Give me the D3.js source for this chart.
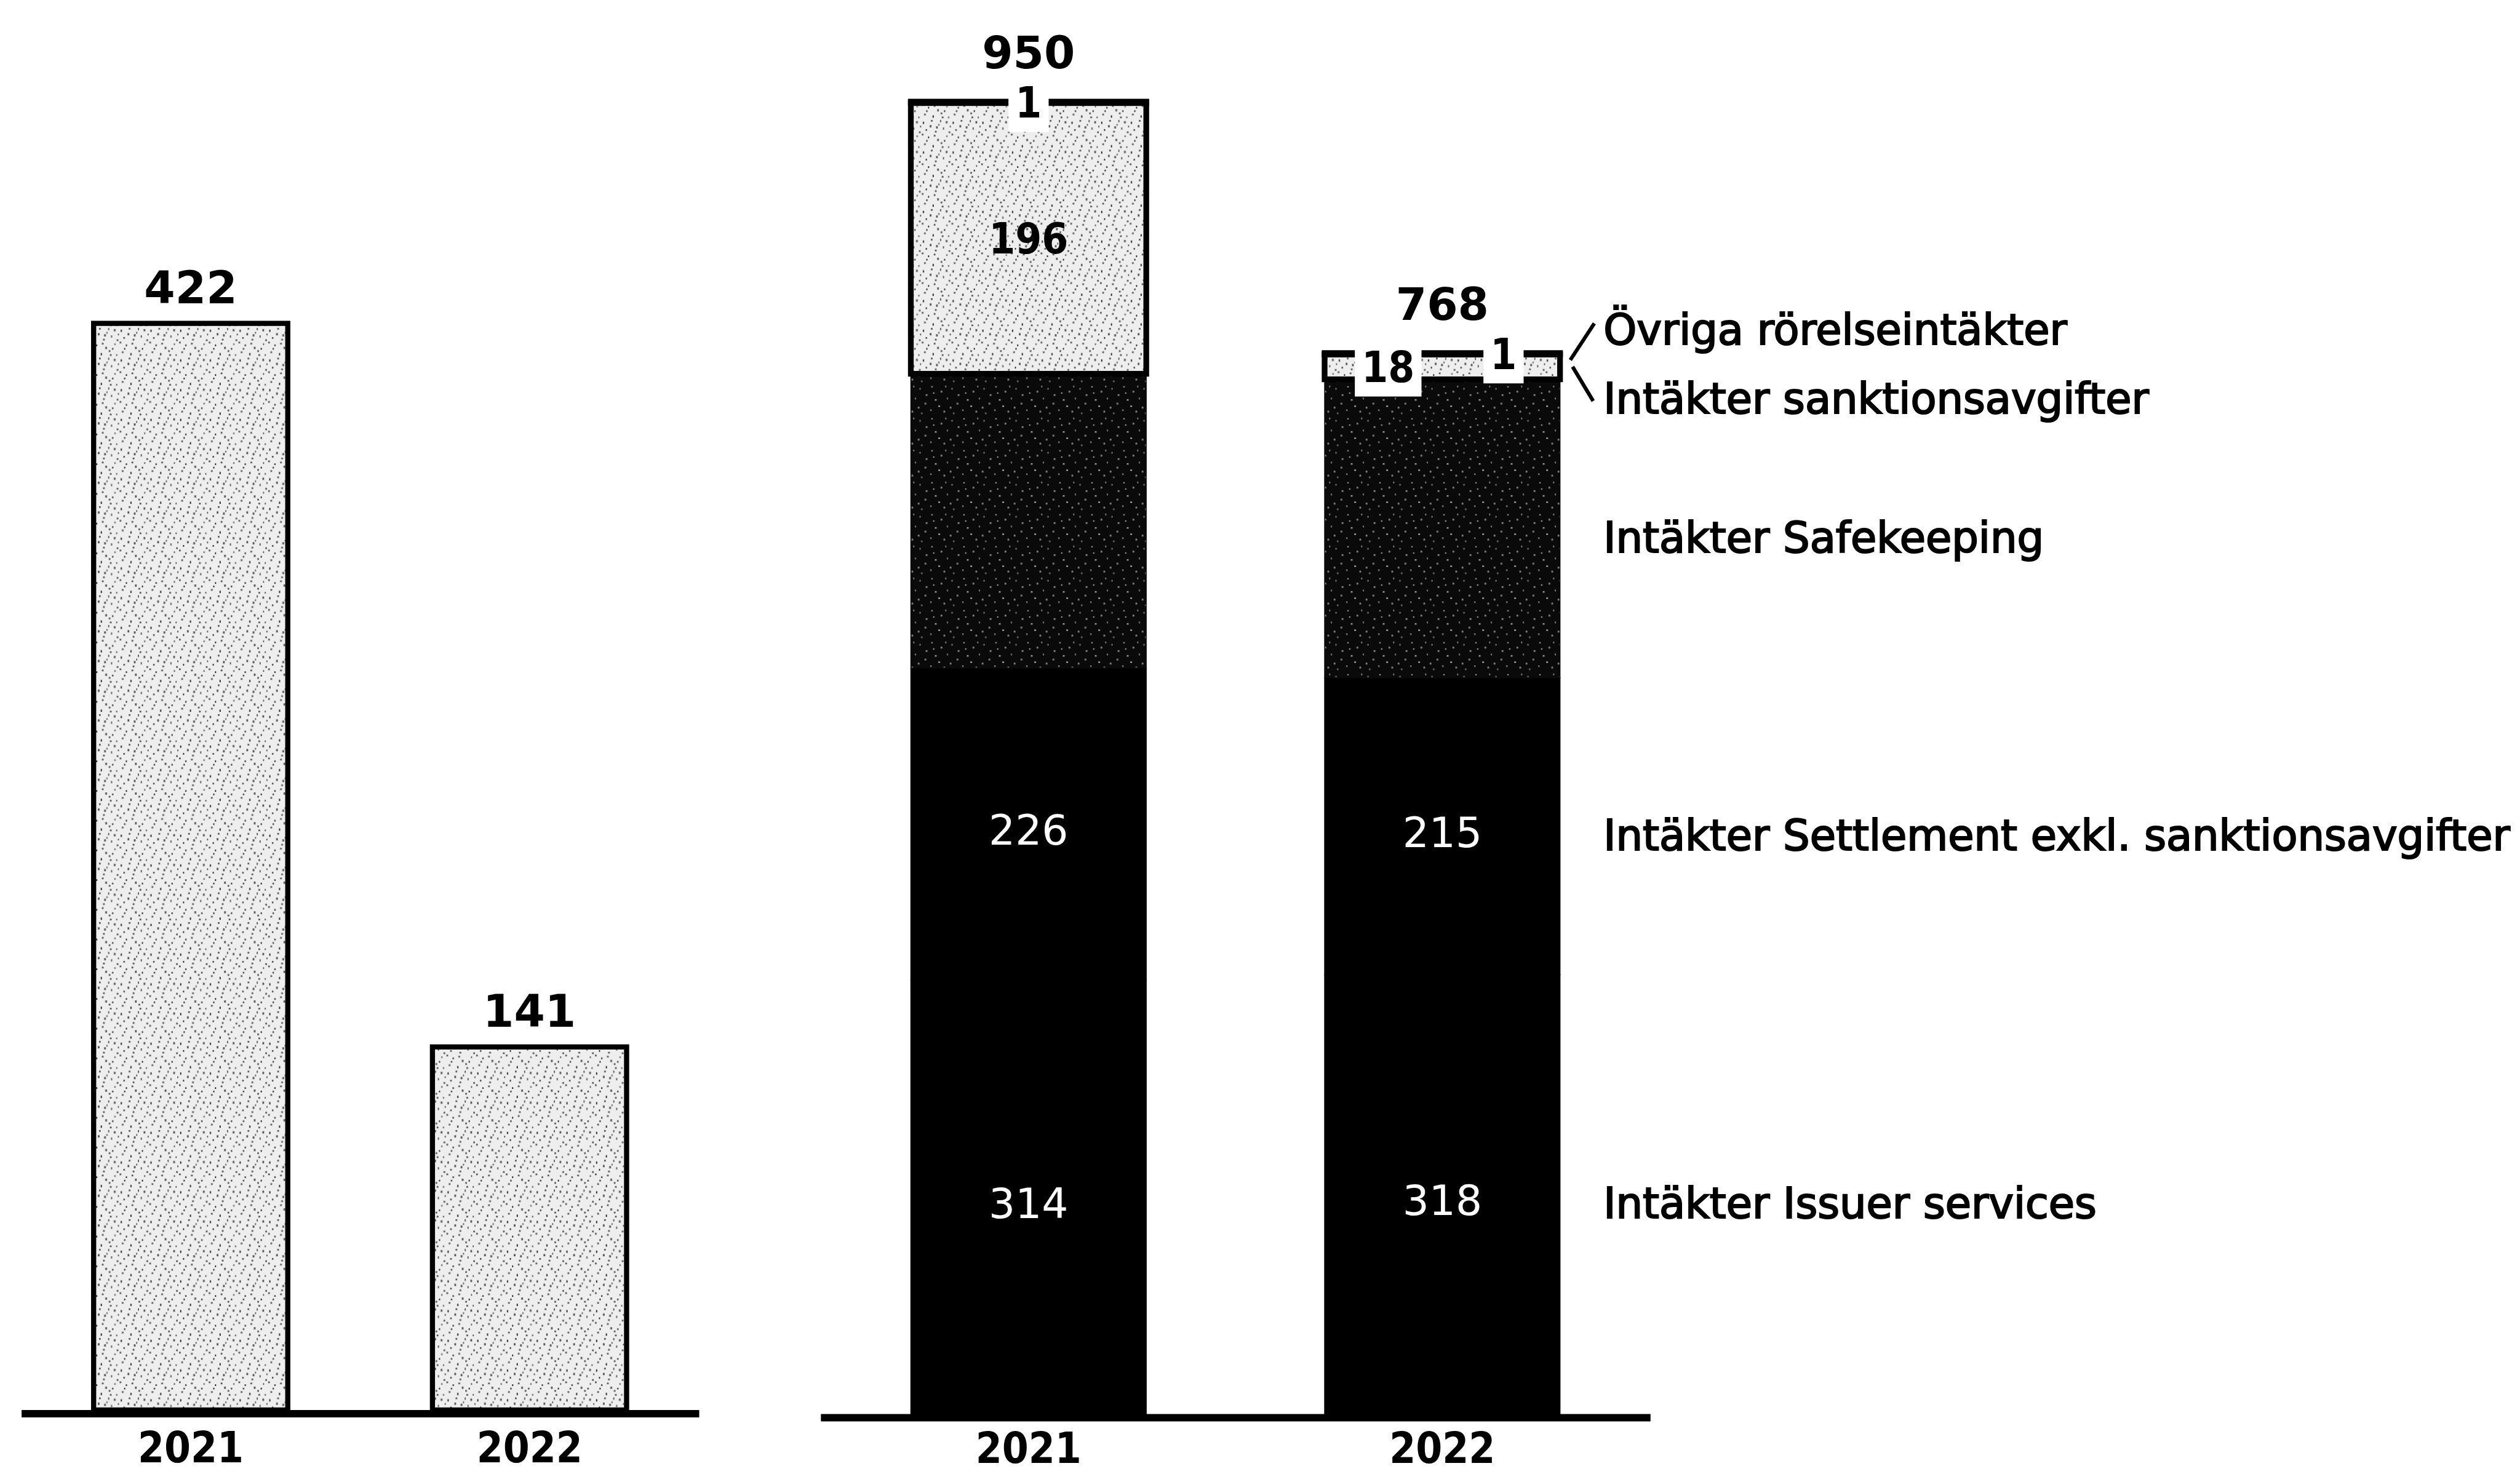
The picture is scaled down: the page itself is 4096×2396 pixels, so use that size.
<!DOCTYPE html>
<html>
<head>
<meta charset="utf-8">
<script src="https://cdn.jsdelivr.net/npm/d3@7"></script>
<style>
  html, body { margin: 0; padding: 0; background: #fff; overflow: hidden; }
</style>
</head>
<body>
<svg id="chart"></svg>
<script>
// ---- data ----
var years = ["2021", "2022"];
var leftValues = [422, 141];

var keys = ["issuer", "settlement", "safekeeping", "sanktion", "ovriga"];
var keyNames = {
    issuer: "Intäkter Issuer services",
    settlement: "Intäkter Settlement exkl. sanktionsavgifter",
    safekeeping: "Intäkter Safekeeping",
    sanktion: "Intäkter sanktionsavgifter",
    ovriga: "Övriga rörelseintäkter"
};
var issuer = [314, 318];
var settlement = [226, 215];
var safekeeping = [213, 216];
var sanktion = [196, 18];
var ovriga = [1, 1];
var totals = [950, 768];

// ---- setup ----
var W = 4410, H = 2580;   // reference size, shown at 0.928
var svg = d3.select("#chart")
    .attr("width", 4096)
    .attr("height", 2396)
    .attr("viewBox", [0, 0, W, H]);

var fontReg = "'DejaVu Sans', Verdana, sans-serif";
var fontCond = "'DejaVu Sans Condensed', 'DejaVu Sans', sans-serif";

// speckled fills (scanned screen look)
var defs = svg.append("defs");
var light = defs.append("pattern").attr("id", "speckLight")
    .attr("patternUnits", "userSpaceOnUse").attr("width", 52).attr("height", 52);
light.append("rect").attr("width", 52).attr("height", 52).attr("fill", "#eeeeee");
[[3,5],[17,2],[30,9],[43,4],[8,18],[24,21],[38,15],[48,22],[12,31],[28,35],[44,29],[5,43],[20,46],
 [34,41],[47,48],[15,11],[40,37],[22,28],[33,2],[1,26],[9,37],[26,13],[50,12],[36,48]]
    .forEach(function (p, i) {
        light.append("rect").attr("x", p[0]).attr("y", p[1])
            .attr("width", i % 2 ? 3 : 2).attr("height", i % 3 ? 3 : 4)
            .attr("fill", i % 4 ? "#555" : "#1a1a1a");
    });

var dark = defs.append("pattern").attr("id", "speckDark")
    .attr("patternUnits", "userSpaceOnUse").attr("width", 56).attr("height", 56);
dark.append("rect").attr("width", 56).attr("height", 56).attr("fill", "#0a0a0a");
[[6,4],[22,12],[41,7],[12,27],[33,24],[50,33],[4,45],[27,47],[44,50],[18,38],[30,3],[52,18],[9,15],[38,40]]
    .forEach(function (p, i) {
        dark.append("rect").attr("x", p[0]).attr("y", p[1])
            .attr("width", i % 2 ? 3 : 2).attr("height", i % 3 ? 3 : 2)
            .attr("fill", i % 3 ? "#8a8a8a" : "#d8d8d8");
    });

// ---- left chart ----
var xL = d3.scaleBand().domain(years)
    .range([37, 1223]).paddingInner(0.427).paddingOuter(0.2135);
var yL = d3.scaleLinear().domain([0, 422]).range([2468, 566]);

var left = svg.append("g");
left.selectAll("rect.bar")
    .data(leftValues)
    .enter().append("rect")
    .attr("class", "bar")
    .attr("x", function (d, i) { return xL(years[i]); })
    .attr("width", xL.bandwidth())
    .attr("y", function (d) { return yL(d); })
    .attr("height", function (d) { return yL(0) - yL(d); })
    .attr("fill", "url(#speckLight)")
    .attr("stroke", "#000")
    .attr("stroke-width", 9);

left.selectAll("text.total")
    .data(leftValues)
    .enter().append("text")
    .attr("class", "total")
    .attr("x", function (d, i) { return xL(years[i]) + xL.bandwidth() / 2; })
    .attr("y", function (d) { return yL(d) - 35; })
    .attr("text-anchor", "middle")
    .style("font-family", fontReg).style("font-weight", "bold").style("font-size", "78px")
    .text(function (d) { return d; });

// axis baseline + year labels
function styleAxis(baseline) {
    return function (g) {
        g.select(".domain").attr("stroke", "#000").attr("stroke-width", 13);
        g.selectAll(".tick text")
            .attr("y", baseline).attr("dy", null)
            .attr("fill", "#000")
            .style("font-family", fontCond).style("font-stretch", "condensed")
            .style("font-weight", "bold").style("font-size", "74px");
    };
}
left.append("g")
    .attr("transform", "translate(0,2474)")
    .call(d3.axisBottom(xL).tickSize(0).tickSizeOuter(0))
    .call(styleAxis(86));

// ---- right chart (stacked) ----
var table = years.map(function (y, i) {
    return { year: y, issuer: issuer[i], settlement: settlement[i], safekeeping: safekeeping[i],
             sanktion: sanktion[i], ovriga: ovriga[i], total: totals[i] };
});
var series = d3.stack().keys(keys)(table);

var xR = d3.scaleBand().domain(years)
    .range([1436, 2888]).paddingInner(0.431).paddingOuter(0.218);
var yR = d3.scaleLinear().domain([0, 950]).range([2475, 2475 - 950 * 2.418]);
var bw = xR.bandwidth();

var fills = { issuer: "#000", settlement: "#000", safekeeping: "url(#speckDark)",
              sanktion: "url(#speckLight)", ovriga: "#fff" };
var strokeColor = { issuer: "#000", settlement: "#000", safekeeping: "#0a0a0a",
                    sanktion: "#000", ovriga: "#000" };
var strokes = { issuer: 1.5, settlement: 1.5, safekeeping: 1.5, sanktion: 10, ovriga: 10 };

var right = svg.append("g");
right.selectAll("g.layer")
    .data(series)
    .enter().append("g")
    .attr("class", "layer")
    .each(function (s) {
        d3.select(this).selectAll("rect")
            .data(s)
            .enter().append("rect")
            .attr("x", function (d) { return xR(d.data.year); })
            .attr("width", bw)
            .attr("y", function (d) { return yR(d[1]); })
            .attr("height", function (d) { return yR(d[0]) - yR(d[1]); })
            .attr("fill", fills[s.key])
            .attr("stroke", strokeColor[s.key])
            .attr("stroke-width", strokes[s.key]);
    });

right.append("g")
    .attr("transform", "translate(0,2481)")
    .call(d3.axisBottom(xR).tickSize(0).tickSizeOuter(0))
    .call(styleAxis(80));

// segment labels
var labels = right.append("g");
series.forEach(function (s) {
    if (s.key == "safekeeping") return; // label lost in the dark fill
    s.forEach(function (d, i) {
        var cx = xR(d.data.year) + bw / 2;
        var cy = (yR(d[0]) + yR(d[1])) / 2;
        var white = (s.key == "issuer" || s.key == "settlement");
        if (white) cy += 10;
        var thin = (yR(series[3][i][0]) - yR(series[3][i][1])) < 60;
        if (thin && s.key == "sanktion") cx = xR(d.data.year) + bw * 0.27;
        if (thin && s.key == "ovriga") cx = xR(d.data.year) + bw * 0.76;
        var g = labels.append("g");
        var t = g.append("text")
            .attr("x", cx).attr("y", cy).attr("dy", "0.36em")
            .attr("text-anchor", "middle")
            .attr("fill", white ? "#fff" : "#000")
            .text(d.data[s.key]);
        if (white) {
            t.style("font-family", fontReg).style("font-size", "73px");
        } else {
            t.style("font-family", fontCond).style("font-stretch", "condensed")
                .style("font-weight", "bold").style("font-size", "74px");
        }
        if (!white && (yR(d[0]) - yR(d[1])) < 60) {
            var b = t.node().getBBox();
            g.insert("rect", "text")
                .attr("x", b.x - 12).attr("y", b.y + 2)
                .attr("width", b.width + 24).attr("height", b.height + 6)
                .attr("fill", "#fff");
        }
    });
});

// totals above stacked bars
right.selectAll("text.total")
    .data(table)
    .enter().append("text")
    .attr("class", "total")
    .attr("x", function (d) { return xR(d.year) + bw / 2; })
    .attr("y", function (d) { return yR(d.total) - 58; })
    .attr("text-anchor", "middle")
    .style("font-family", fontReg).style("font-weight", "bold").style("font-size", "78px")
    .text(function (d) { return d.total; });

// ---- legend, aligned to the 2022 bar ----
var last = years.length - 1;
var barRight = xR(years[last]) + bw;
var lx = 2806;
var legendY = {};
["issuer", "settlement", "safekeeping"].forEach(function (k) {
    var seg = series[keys.indexOf(k)][last];
    legendY[k] = (yR(seg[0]) + yR(seg[1])) / 2 + 15;
});
var topOv = yR(series[4][last][1]);
var topSa = yR(series[3][last][0]);
legendY.ovriga = topOv - 42;
legendY.sanktion = topSa + 33;

var legend = svg.append("g");
keys.forEach(function (k) {
    legend.append("text")
        .attr("x", lx).attr("y", legendY[k]).attr("dy", "0.36em")
        .attr("fill", "#000")
        .attr("stroke", "#000").attr("stroke-width", 2.4)
        .style("font-family", fontReg).style("font-size", "74px")
        .text(keyNames[k]);
});

legend.append("line")
    .attr("x1", barRight + 18).attr("y1", topOv + 12)
    .attr("x2", barRight + 60).attr("y2", topOv - 52)
    .attr("stroke", "#000").attr("stroke-width", 6.5);
legend.append("line")
    .attr("x1", barRight + 22).attr("y1", topSa - 22)
    .attr("x2", barRight + 58).attr("y2", topSa + 38)
    .attr("stroke", "#000").attr("stroke-width", 6.5);
</script>
</body>
</html>
